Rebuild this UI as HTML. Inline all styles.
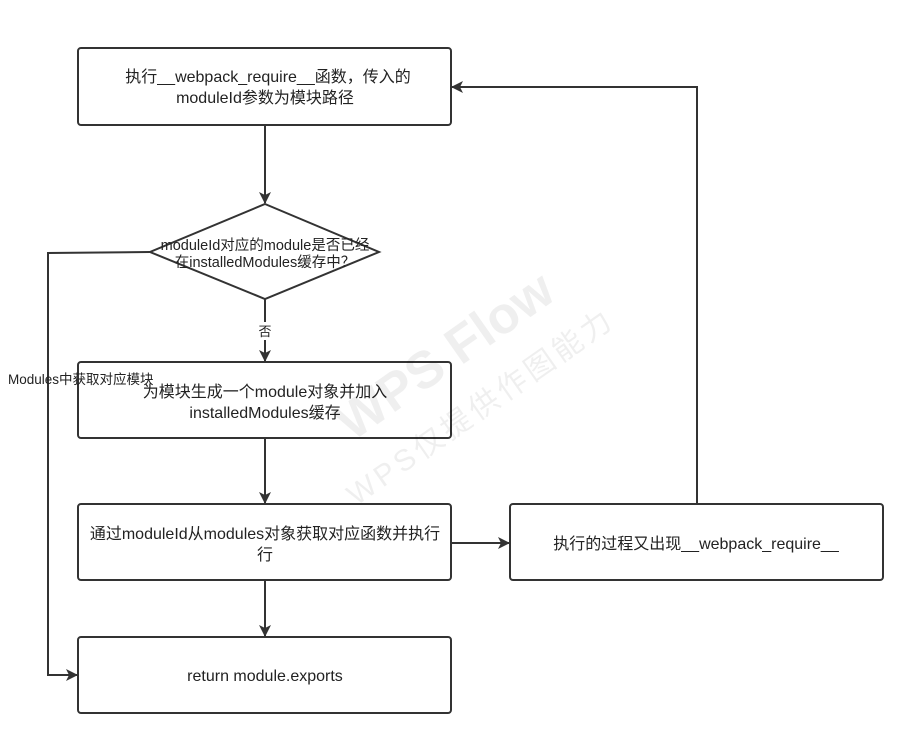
<!DOCTYPE html>
<html><head><meta charset="utf-8"><style>
body{margin:0;background:#fff;}
svg{display:block;font-family:"Liberation Sans","Noto Sans CJK SC",sans-serif;}
</style></head><body>
<svg width="915" height="746" viewBox="0 0 915 746" xmlns="http://www.w3.org/2000/svg">
<defs><marker id="a" markerWidth="12" markerHeight="12" refX="11" refY="6" orient="auto" markerUnits="userSpaceOnUse"><path d="M0,0 L12,6 L0,12 L3,6 z" fill="#333"/></marker></defs>
<g fill="#fff" stroke="#333" stroke-width="2">
<rect x="78" y="48" width="373" height="77" rx="3"/>
<rect x="78" y="362" width="373" height="76" rx="3"/>
<rect x="78" y="504" width="373" height="76" rx="3"/>
<rect x="78" y="637" width="373" height="76" rx="3"/>
<rect x="510" y="504" width="373" height="76" rx="3"/>
<polygon points="265,204 379,252 265,299 150,252"/>
</g>
<g stroke="#333" stroke-width="2" fill="none" marker-end="url(#a)">
<line x1="265" y1="125" x2="265" y2="203"/>
<line x1="265" y1="299" x2="265" y2="361"/>
<line x1="265" y1="438" x2="265" y2="503"/>
<line x1="265" y1="580" x2="265" y2="636"/>
<line x1="451" y1="543" x2="509" y2="543"/>
<polyline points="150,252 48,253 48,675 77,675"/>
<polyline points="697,504 697,87 452,87"/>
</g>
<rect x="256" y="322" width="18" height="18" fill="#fff"/>
<g fill="#222" text-anchor="middle" font-size="16">
<text x="268" y="82">执行__webpack_require__函数，传入的</text>
<text x="265" y="103">moduleId参数为模块路径</text>
<text x="265" y="397">为模块生成一个module对象并加入</text>
<text x="265" y="418">installedModules缓存</text>
<text x="265" y="539">通过moduleId从modules对象获取对应函数并执行</text>
<text x="265" y="560">行</text>
<text x="265" y="681">return module.exports</text>
<text x="696" y="549">执行的过程又出现__webpack_require__</text>
<text x="265" y="250" font-size="14.5">moduleId对应的module是否已经</text>
<text x="265" y="267" font-size="14.5">在installedModules缓存中？</text>
<text x="265" y="336" font-size="13">否</text>
</g>
<text x="8" y="384" font-size="13.5" fill="#222">Modules中获取对应模块</text>
<g opacity="0.06" transform="translate(455,370) rotate(-35)" fill="#000" text-anchor="middle">
<text x="0" y="0" font-size="52" font-weight="bold">WPS Flow</text>
<text x="0" y="55" font-size="30" letter-spacing="4">WPS仅提供作图能力</text>
</g>
</svg>
</body></html>
